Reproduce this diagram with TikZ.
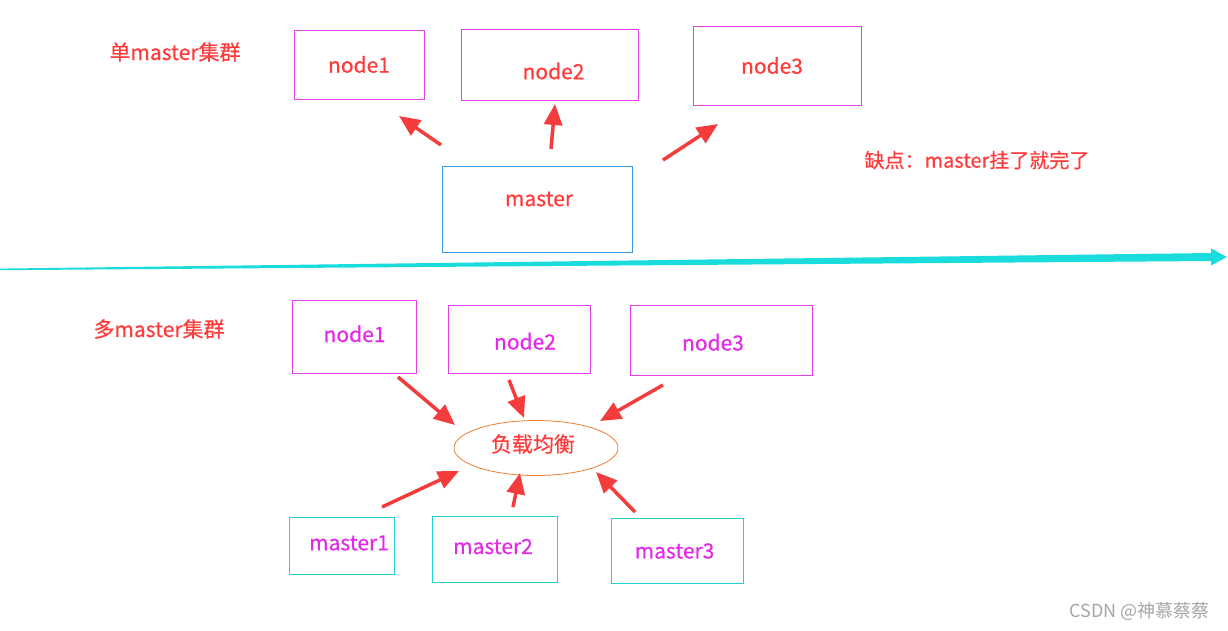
\documentclass[tikz,border=0pt]{standalone}
\usepackage{fontspec}
\setmainfont{Noto Sans CJK SC}[FakeBold=0.6]
\newfontfamily\markfont{Noto Sans CJK SC}
\usetikzlibrary{shapes.geometric,arrows.meta}

\definecolor{txtred}{HTML}{FF3B3B}
\definecolor{txtpink}{HTML}{E22BE6}
\definecolor{boxpink}{HTML}{E040E8}
\definecolor{boxblue}{HTML}{3A96DD}
\definecolor{boxcyan}{HTML}{22D2D8}
\definecolor{linecyan}{HTML}{1ADCDC}
\definecolor{lborange}{HTML}{ED7D31}
\definecolor{arrowred}{HTML}{F43C3C}
\definecolor{wmgray}{HTML}{A6A6A6}

\begin{document}
\begin{tikzpicture}[x=1pt, y=-1pt,
    txt/.style={font=\fontsize{21}{25}\selectfont},
    redtxt/.style={txt, text=txtred},
    pinktxt/.style={txt, text=txtpink},
    box/.style={draw, line width=1pt, inner sep=0pt},
    nodebox/.style={box, draw=boxpink},
    masterbox/.style={box, draw=boxblue},
    cyanbox/.style={box, draw=boxcyan},
    redarrow/.style={draw=arrowred, line width=3.5pt, -{Triangle[length=21pt, width=18pt]}}]

    \useasboundingbox (0,0) rectangle (1228,630);

    \node[redtxt] (single) at (175,52) {单master集群};
    \node[nodebox, minimum width=130pt, minimum height=69pt, label={[redtxt]center:node1}] (n1) at (359,64.5) {};
    \node[nodebox, minimum width=177pt, minimum height=71pt, label={[redtxt, xshift=4pt, yshift=-6pt]center:node2}] (n2) at (549.5,65) {};
    \node[nodebox, minimum width=168pt, minimum height=79pt, label={[redtxt, xshift=-5pt]center:node3}] (n3) at (777,65.5) {};
    \node[masterbox, minimum width=190pt, minimum height=86pt, label={[redtxt, xshift=2pt, yshift=10pt]center:master}] (m) at (537,209) {};
    \node[redtxt, font=\fontsize{20}{24}\selectfont, anchor=west] (flaw) at (861,160) {缺点：master挂了就完了};

    \coordinate (m1s) at (441,145);
    \coordinate (m1e) at (399,116);
    \coordinate (m2s) at (551,149);
    \coordinate (m2e) at (555,104);
    \coordinate (m3s) at (663,160);
    \coordinate (m3e) at (718,124);
    \draw[redarrow] (m1s) -- (m1e);
    \draw[redarrow] (m2s) -- (m2e);
    \draw[redarrow] (m3s) -- (m3e);

    \fill[linecyan] (0,268.6) -- (1211,253) -- (1211,248.5) -- (1227,257) -- (1211,265.5) -- (1211,261) -- (0,270.2) -- cycle;

    \node[redtxt] (multi) at (159,329) {多master集群};
    \node[nodebox, minimum width=124pt, minimum height=73pt, label={[pinktxt, yshift=3pt]center:node1}] (b1) at (354.5,336.8) {};
    \node[nodebox, minimum width=142pt, minimum height=68pt, label={[pinktxt, xshift=6pt, yshift=-2pt]center:node2}] (b2) at (519,339.3) {};
    \node[nodebox, minimum width=182pt, minimum height=70pt, label={[pinktxt, xshift=-8pt, yshift=-2pt]center:node3}] (b3) at (721,340.3) {};
    \node[ellipse, draw=lborange, line width=0.8pt, minimum width=164pt, minimum height=55pt, inner sep=0pt] (lb) at (536,448) {};
    \node[redtxt] (lbtext) at (533,444) {负载均衡};
    \node[cyanbox, minimum width=105pt, minimum height=57pt, label={[pinktxt, xshift=7pt, yshift=3pt]center:master1}] (s1) at (342,546) {};
    \node[cyanbox, minimum width=125pt, minimum height=66pt, label={[pinktxt, xshift=-2pt, yshift=3pt]center:master2}] (s2) at (495,549.5) {};
    \node[cyanbox, minimum width=132pt, minimum height=65pt, label={[pinktxt, xshift=-3pt]center:master3}] (s3) at (677.5,551) {};

    \coordinate (b1s) at (398,377);
    \coordinate (b1e) at (455,425);
    \coordinate (b2s) at (509,380);
    \coordinate (b2e) at (524,418);
    \coordinate (b3s) at (663,385);
    \coordinate (b3e) at (600,421);
    \coordinate (s1s) at (382,507);
    \coordinate (s1e) at (459,471);
    \coordinate (s2s) at (513,507);
    \coordinate (s2e) at (520,473);
    \coordinate (s3s) at (635,512);
    \coordinate (s3e) at (596,472);
    \draw[redarrow] (b1s) -- (b1e);
    \draw[redarrow] (b2s) -- (b2e);
    \draw[redarrow] (b3s) -- (b3e);
    \draw[redarrow] (s1s) -- (s1e);
    \draw[redarrow] (s2s) -- (s2e);
    \draw[redarrow] (s3s) -- (s3e);

    \node[text=wmgray, font=\markfont\fontsize{18}{21}\selectfont, anchor=east] (mark) at (1213,611) {CSDN @神慕蔡蔡};

\end{tikzpicture}
\end{document}
